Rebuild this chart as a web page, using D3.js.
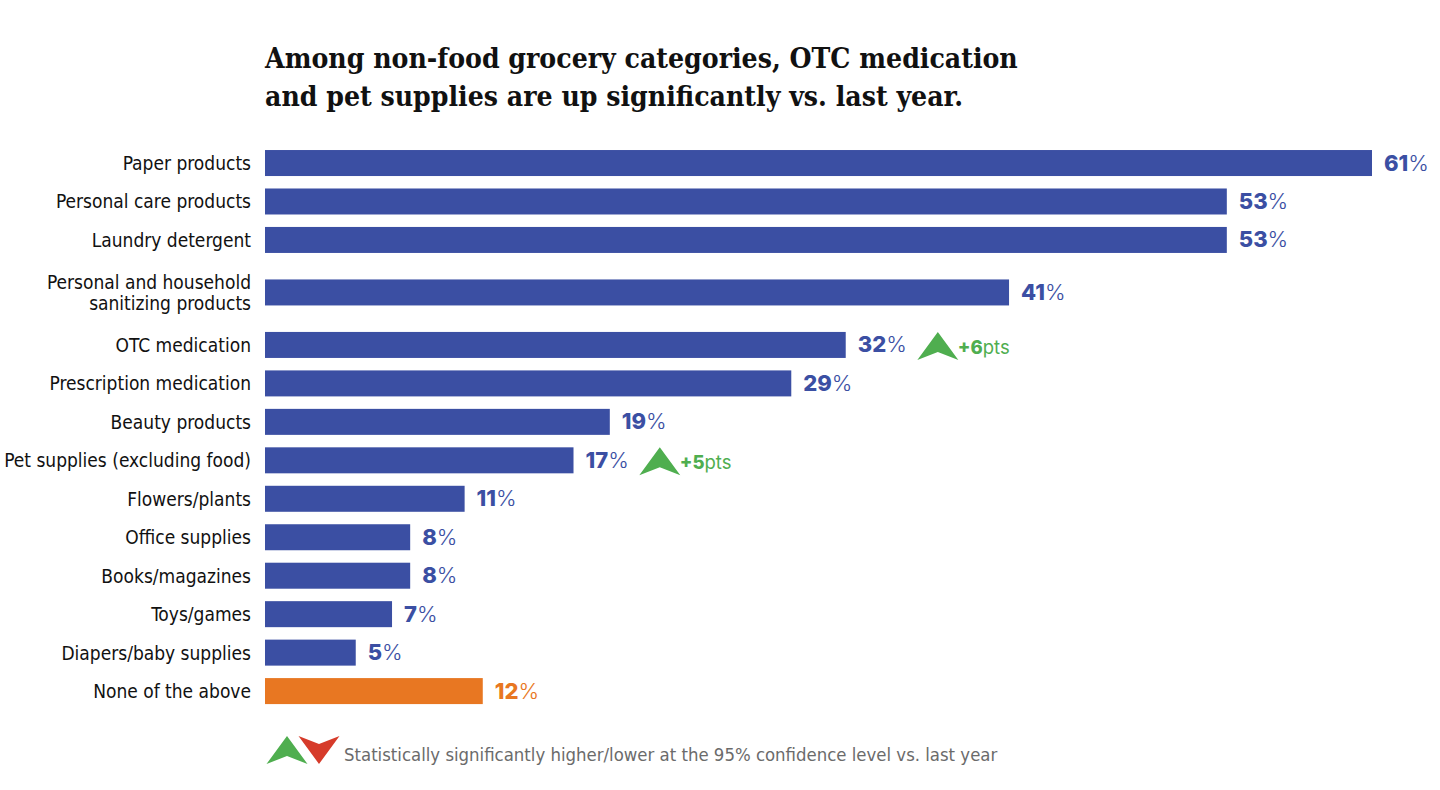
<!DOCTYPE html>
<html>
<head>
<meta charset="utf-8">
<script src="https://cdn.jsdelivr.net/npm/d3@7"></script>
<style>
  body { margin: 0; background: #fff; }
  svg { display: block; }
</style>
</head>
<body>
<div id="chart"></div>
<script>
// data ---------------------------------------------------------------------
const categories = [
  'Paper products',
  'Personal care products',
  'Laundry detergent',
  'Personal and household\nsanitizing products',
  'OTC medication',
  'Prescription medication',
  'Beauty products',
  'Pet supplies (excluding food)',
  'Flowers/plants',
  'Office supplies',
  'Books/magazines',
  'Toys/games',
  'Diapers/baby supplies',
  'None of the above'
];
const values = [61, 53, 53, 41, 32, 29, 19, 17, 11, 8, 8, 7, 5, 12];
const changes = ['', '', '', '', '+6', '', '', '+5', '', '', '', '', '', ''];
const noneCategory = 'None of the above';
const titleLines = [
  'Among non-food grocery categories, OTC medication',
  'and pet supplies are up significantly vs. last year.'
];
const legendText = 'Statistically significantly higher/lower at the 95% confidence level vs. last year';

// layout --------------------------------------------------------------------
const width = 1440;
const height = 790;
const blue = '#3b4fa3';
const orange = '#e87722';
const green = '#4fae4f';
const red = '#d63b2a';
const labelFont = '"DejaVu Sans Condensed", "Liberation Sans Narrow", sans-serif';
const numFont = 'Inter, Lato, sans-serif';

const svg = d3.select('#chart').append('svg')
  .attr('width', width)
  .attr('height', height);

// タイトル------------------------------------------------------------------
const title = svg.append('g')
  .attr('font-family', '"DejaVu Serif Condensed", "DejaVu Serif", serif')
  .attr('font-weight', 'bold')
  .attr('fill', '#111');
title.selectAll('text')
  .data(titleLines)
  .enter()
  .append('text')
  .attr('x', 265)
  .attr('y', (d, i) => 68 + i * 38)
  .attr('font-size', 29)
  .text(d => d);
// 1行目の幅をリファレンスに合わせる
const firstLen = title.select('text').node().getComputedTextLength();
title.selectAll('text').attr('font-size', 29 * 753 / firstLen);

// y scale: 2行ラベルの行は高さを増やす-----------------------------------------
const weights = categories.map(c => 1 + 0.73 * (c.split('\n').length - 1));
const starts = weights.map((w, i) => d3.sum(weights.slice(0, i)));
const yScale = d3.scaleLinear()
  .domain([0, d3.sum(weights)])
  .range([143.8, 143.8 + 38.46 * d3.sum(weights)]);
const center = i => yScale(starts[i] + weights[i] / 2);
const barH = 26;

const xScale = d3.scaleLinear()
  .domain([0, d3.max(values)])
  .range([265, 1372]);

const rows = categories.map((c, i) => ({ cat: c, value: values[i], change: changes[i], i: i }));

// バー------------------------------------------------------------------------
svg.selectAll('.bar')
  .data(rows)
  .enter()
  .append('rect')
  .attr('class', 'bar')
  .attr('x', xScale(0))
  .attr('y', d => center(d.i) - barH / 2)
  .attr('width', d => xScale(d.value) - xScale(0))
  .attr('height', barH)
  .attr('fill', d => d.cat === noneCategory ? orange : blue);

// カテゴリラベル----------------------------------------------------------------
const labels = svg.selectAll('.cat-label')
  .data(rows)
  .enter()
  .append('text')
  .attr('class', 'cat-label')
  .attr('x', 251)
  .attr('text-anchor', 'end')
  .attr('font-family', labelFont)
  .attr('font-size', 19)
  .attr('fill', '#111');
labels.each(function (d) {
  const lines = d.cat.split('\n');
  const y0 = center(d.i) - (lines.length - 1) * 10.5 + 7;
  d3.select(this).selectAll('tspan')
    .data(lines)
    .enter()
    .append('tspan')
    .attr('x', 251)
    .attr('y', (l, k) => y0 + k * 21)
    .text(l => l);
});

// 値ラベル--------------------------------------------------------------------
const valText = svg.selectAll('.val-label')
  .data(rows)
  .enter()
  .append('text')
  .attr('class', 'val-label')
  .attr('x', d => xScale(d.value) + 12)
  .attr('y', d => center(d.i) + 7.5)
  .attr('font-family', numFont)
  .attr('font-size', 22)
  .attr('fill', d => d.cat === noneCategory ? orange : blue);
valText.append('tspan')
  .attr('font-weight', 800)
  .text(d => d.value);
valText.append('tspan')
  .attr('font-weight', 300)
  .text('%');

// 有意差の矢印------------------------------------------------------------------
const upArrow = 'M0,-14 L20.5,14 L0,6 L-20.5,14 Z';
const downArrow = 'M0,14 L20.5,-14 L0,-6 L-20.5,-14 Z';
const changed = rows.filter(d => d.change);
valText.filter(d => d.change).each(function (d) {
  const box = this.getBBox();
  d.arrowX = box.x + box.width + 31;
});
const arrowG = svg.selectAll('.change')
  .data(changed)
  .enter()
  .append('g')
  .attr('class', 'change')
  .attr('transform', d => 'translate(' + d.arrowX + ',' + (center(d.i) + 1) + ')');
arrowG.append('path')
  .attr('d', upArrow)
  .attr('fill', green);
const chText = arrowG.append('text')
  .attr('x', 20)
  .attr('y', 8)
  .attr('font-family', numFont)
  .attr('font-size', 18.5)
  .attr('fill', green);
chText.append('tspan').attr('font-weight', 800).text(d => d.change);
chText.append('tspan').attr('font-weight', 400).text('pts');

// 凡例------------------------------------------------------------------------
const legend = svg.append('g').attr('transform', 'translate(0,750)');
legend.append('path')
  .attr('d', upArrow)
  .attr('transform', 'translate(287,0)')
  .attr('fill', green);
legend.append('path')
  .attr('d', downArrow)
  .attr('transform', 'translate(319,0)')
  .attr('fill', red);
legend.append('text')
  .attr('x', 344)
  .attr('y', 11)
  .attr('font-family', labelFont)
  .attr('font-size', 18.4)
  .attr('fill', '#6b6b6b')
  .text(legendText);
</script>
</body>
</html>
